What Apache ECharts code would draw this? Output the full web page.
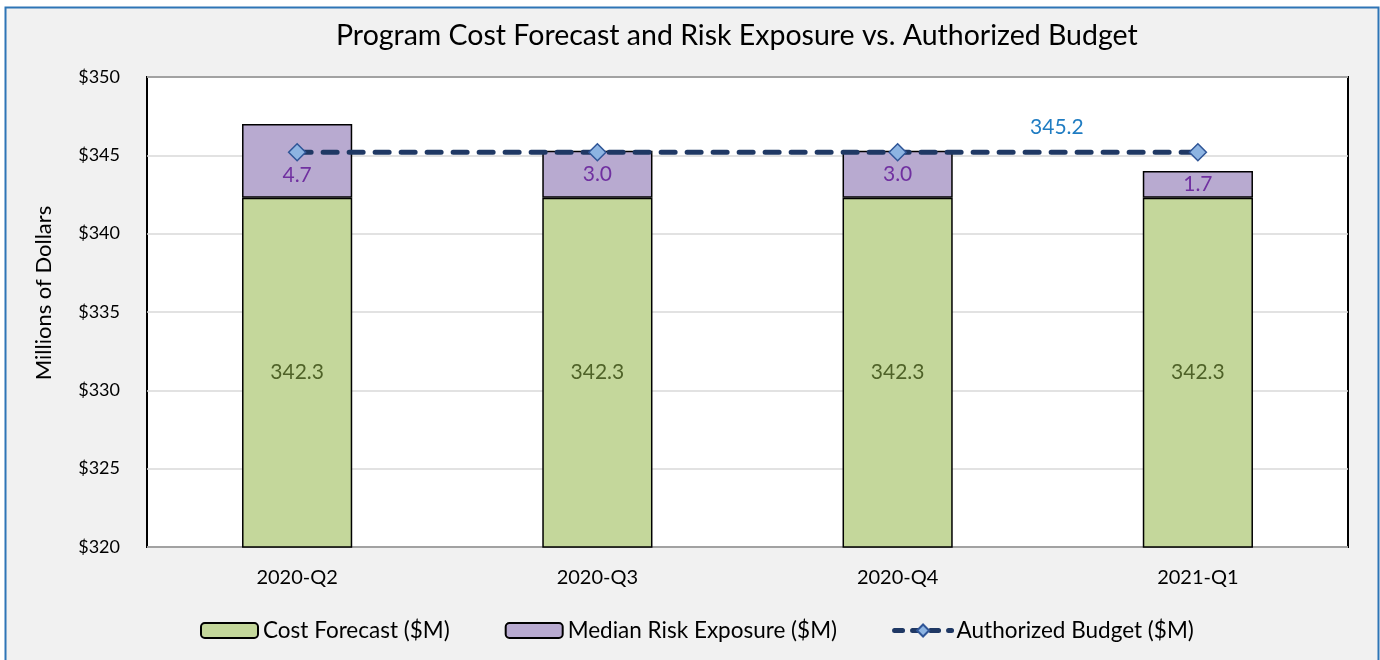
<!DOCTYPE html>
<html><head><meta charset="utf-8">
<script src="https://cdn.jsdelivr.net/npm/echarts@6/dist/echarts.min.js"></script>
<style>html,body{margin:0;padding:0;background:#fff}#c{width:1380px;height:660px}</style>
</head><body><div id="c"></div>
<script>
const categories = ['2020-Q2', '2020-Q3', '2020-Q4', '2021-Q1'];
const costForecast = [342.3, 342.3, 342.3, 342.3];
const riskExposure = [4.7, 3.0, 3.0, 1.7];
const authorizedBudget = [345.2, 345.2, 345.2, 345.2];
const yTicks = { min: 320, max: 350, interval: 5 };

const FONT = 'Lato';
const chart = echarts.init(document.getElementById('c'));
chart.setOption({
  backgroundColor: '#ffffff',
  animation: false,
  graphic: [{
    type: 'rect', z: -10, silent: true,
    shape: { x: 5.5, y: 7.5, width: 1373, height: 700 },
    style: { fill: '#f1f1f1', stroke: '#2e75b6', lineWidth: 2 }
  }],
  title: {
    text: 'Program Cost Forecast and Risk Exposure vs. Authorized Budget',
    left: 331, top: 16,
    textStyle: { fontFamily: FONT, fontSize: 28.5, fontWeight: 'normal', color: '#000' }
  },
  grid: { left: 147, right: 32, top: 77, bottom: 113, show: true, backgroundColor: '#ffffff', borderColor: '#000', borderWidth: 2 },
  legend: {
    bottom: 13, left: 195,
    itemWidth: 57, itemHeight: 15, itemGap: 55,
    textStyle: { fontFamily: FONT, fontSize: 22.5, color: '#000', padding: [0, 0, 0, 0] },
    data: [
      'Cost Forecast ($M)',
      'Median Risk Exposure ($M)',
      { name: 'Authorized Budget ($M)', lineStyle: { width: 5, type: [8, 10], cap: 'round' } }
    ]
  },
  xAxis: {
    type: 'category', data: categories,
    axisLine: { show: false }, axisTick: { show: false },
    axisLabel: { fontFamily: FONT, fontSize: 20, color: '#000', margin: 21 }
  },
  yAxis: {
    type: 'value', min: yTicks.min, max: yTicks.max, interval: yTicks.interval,
    name: 'Millions of Dollars', nameLocation: 'middle', nameGap: 92,
    nameTextStyle: { fontFamily: FONT, fontSize: 22, color: '#000', padding: [0, 0, 0, 38] },
    axisLabel: { fontFamily: FONT, fontSize: 18, color: '#000', margin: 27, formatter: v => '$' + v },
    splitLine: { lineStyle: { color: '#d9d9d9', width: 1.5 } },
    axisLine: { show: false }, axisTick: { show: false }
  },
  series: [
    {
      name: 'Cost Forecast ($M)', type: 'bar', stack: 's', barWidth: '36.7%',
      data: costForecast,
      itemStyle: { color: '#c4d79b', borderColor: '#000', borderWidth: 1.5 },
      label: { show: true, position: 'inside', fontFamily: FONT, fontSize: 21, color: '#4f6228', formatter: p => p.value.toFixed(1) }
    },
    {
      name: 'Median Risk Exposure ($M)', type: 'bar', stack: 's',
      data: riskExposure.map((v, i) => i === 0 ? { value: v, label: { offset: [0, 14] } } : v),
      itemStyle: { color: '#b8aad0', borderColor: '#000', borderWidth: 1.5 },
      label: { show: true, position: 'inside', fontFamily: FONT, fontSize: 21, color: '#7030a0', formatter: p => Number(p.value).toFixed(1) }
    },
    {
      name: 'Authorized Budget ($M)', type: 'line', z: 5,
      data: authorizedBudget.map((v, i) => i === authorizedBudget.length - 1
        ? { value: v, label: { show: true, position: 'inside', offset: [-141, -25], fontFamily: FONT, fontSize: 21, color: '#1f7cc2', formatter: p => p.value.toFixed(1) } }
        : v),
      symbol: 'diamond', symbolSize: 17,
      itemStyle: { color: '#8db4e2', borderColor: '#2f5597', borderWidth: 1.5 },
      lineStyle: { color: '#1f3864', width: 5, type: [14, 12], cap: 'round' }
    }
  ]
});
</script></body></html>
